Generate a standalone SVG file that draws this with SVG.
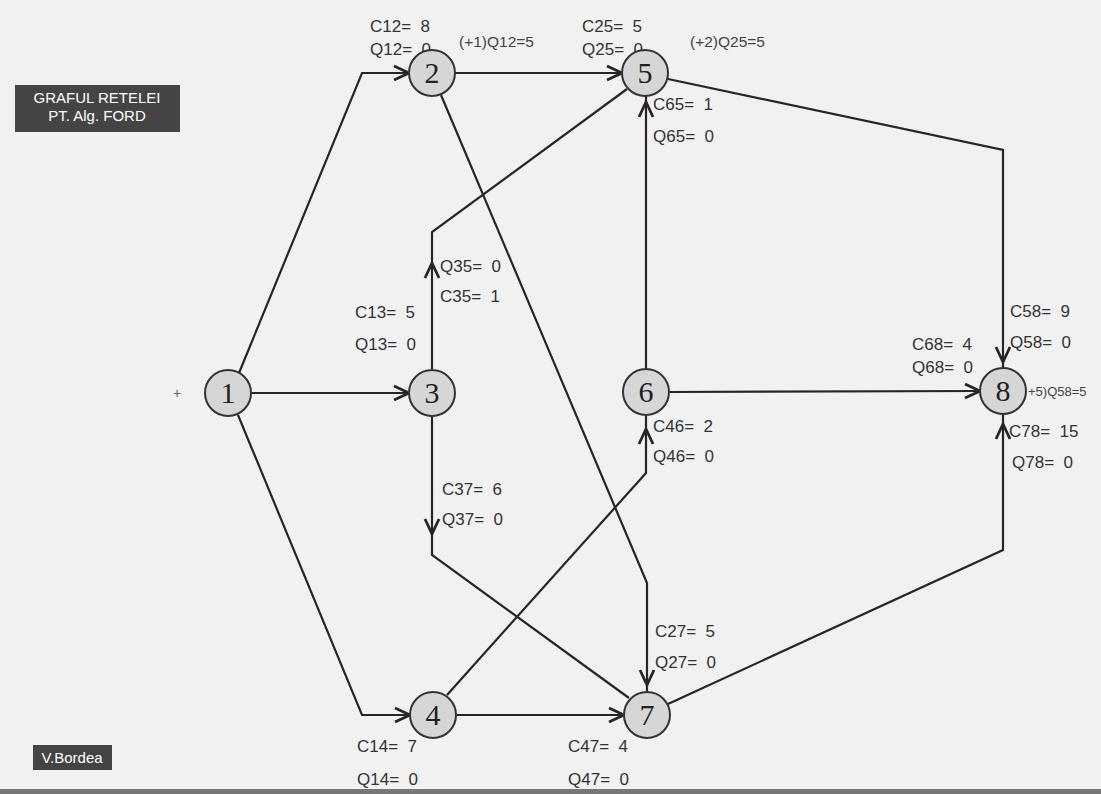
<svg xmlns="http://www.w3.org/2000/svg" width="1101" height="794" viewBox="0 0 1101 794">
<defs>
<style>
.edge{fill:none;stroke:#262626;stroke-width:2.2}
.ah{fill:none;stroke:#262626;stroke-width:2.8;stroke-linejoin:miter}
.lbl{font-family:"Liberation Sans",Arial,sans-serif;font-size:17px;fill:#333;white-space:pre}
.flow{font-family:"Liberation Sans",Arial,sans-serif;font-size:15.5px;fill:#444;white-space:pre}
.node circle{fill:#d6d6d6;stroke:#333;stroke-width:2}
.node text{font-family:"Liberation Serif","Times New Roman",serif;font-size:30px;fill:#222;text-anchor:middle}
.box{fill:#444}
.boxt{font-family:"Liberation Sans",Arial,sans-serif;font-size:15px;fill:#fff}
</style>
<path id="ah" class="ah" d="M-15,-7 L0,0 L-15,7"/>
</defs>
<rect x="0" y="0" width="1101" height="794" fill="#f1f1f1"/>
<rect x="0" y="789" width="1101" height="5" fill="#777"/>

<g id="title">
<rect class="box" x="15" y="85" width="165" height="47"/>
<text class="boxt" x="97" y="103" text-anchor="middle">GRAFUL RETELEI</text>
<text class="boxt" x="97" y="121" text-anchor="middle">PT. Alg. FORD</text>
</g>
<g id="author">
<rect class="box" x="33" y="745" width="79" height="25"/>
<text class="boxt" x="72" y="763" text-anchor="middle">V.Bordea</text>
</g>

<g id="connectors">
<path class="edge" d="M239,373 L362,73 L409,73"/>
<use href="#ah" transform="translate(409,73)"/>
<path class="edge" d="M252,393 L409,393"/>
<use href="#ah" transform="translate(409,393)"/>
<path class="edge" d="M238,415 L362,715 L410,715"/>
<use href="#ah" transform="translate(410,715)"/>
<path class="edge" d="M455,73 L622,73"/>
<use href="#ah" transform="translate(622,73)"/>
<path class="edge" d="M441,95 L647,583 L647,692"/>
<use href="#ah" transform="translate(647,685) rotate(90)"/>
<path class="edge" d="M432,369 L432,232 L627,89"/>
<use href="#ah" transform="translate(432,263) rotate(-90)"/>
<path class="edge" d="M432,416 L432,555 L629,698"/>
<use href="#ah" transform="translate(432,534) rotate(90)"/>
<path class="edge" d="M447,695 L646,473 L646,415"/>
<use href="#ah" transform="translate(646,429) rotate(-90)"/>
<path class="edge" d="M456,715 L624,715"/>
<use href="#ah" transform="translate(624,715)"/>
<path class="edge" d="M668,79 L1003,150 L1003,368"/>
<use href="#ah" transform="translate(1003,362) rotate(90)"/>
<path class="edge" d="M646,369 L646,96"/>
<use href="#ah" transform="translate(646,102) rotate(-90)"/>
<path class="edge" d="M669,392 L980,391"/>
<use href="#ah" transform="translate(980,391)"/>
<path class="edge" d="M668,704 L1003,550 L1003,414"/>
<use href="#ah" transform="translate(1003,424) rotate(-90)"/>
</g>

<g id="labels">
<text class="lbl" x="370" y="32">C12=  8</text>
<text class="lbl" x="370" y="55">Q12=  0</text>
<text class="flow" x="459" y="47">(+1)Q12=5</text>
<text class="lbl" x="582" y="32">C25=  5</text>
<text class="lbl" x="582" y="55">Q25=  0</text>
<text class="flow" x="690" y="47">(+2)Q25=5</text>
<text class="lbl" x="653" y="110">C65=  1</text>
<text class="lbl" x="653" y="142">Q65=  0</text>
<text class="lbl" x="440" y="272">Q35=  0</text>
<text class="lbl" x="440" y="302">C35=  1</text>
<text class="lbl" x="355" y="318">C13=  5</text>
<text class="lbl" x="355" y="350">Q13=  0</text>
<text class="lbl" x="442" y="495">C37=  6</text>
<text class="lbl" x="442" y="525">Q37=  0</text>
<text class="lbl" x="653" y="432">C46=  2</text>
<text class="lbl" x="653" y="462">Q46=  0</text>
<text class="lbl" x="912" y="350">C68=  4</text>
<text class="lbl" x="912" y="373">Q68=  0</text>
<text class="lbl" x="1010" y="317">C58=  9</text>
<text class="lbl" x="1010" y="348">Q58=  0</text>
<text class="flow" x="1028" y="396" style="font-size:13px">+5)Q58=5</text>
<text class="lbl" x="1009" y="437">C78=  15</text>
<text class="lbl" x="1012" y="468">Q78=  0</text>
<text class="lbl" x="655" y="637">C27=  5</text>
<text class="lbl" x="655" y="668">Q27=  0</text>
<text class="lbl" x="357" y="752">C14=  7</text>
<text class="lbl" x="357" y="785">Q14=  0</text>
<text class="lbl" x="568" y="752">C47=  4</text>
<text class="lbl" x="568" y="785">Q47=  0</text>
<text class="lbl" x="173" y="398" style="font-size:14px;fill:#666">+</text>
</g>

<g id="node1" class="node"><circle cx="228" cy="393" r="23"/><text x="228" y="403">1</text></g>
<g id="node2" class="node"><circle cx="432" cy="73" r="23"/><text x="432" y="83">2</text></g>
<g id="node3" class="node"><circle cx="432" cy="393" r="23"/><text x="432" y="403">3</text></g>
<g id="node4" class="node"><circle cx="433" cy="715" r="23"/><text x="433" y="725">4</text></g>
<g id="node5" class="node"><circle cx="645" cy="73" r="23"/><text x="645" y="83">5</text></g>
<g id="node6" class="node"><circle cx="646" cy="392" r="23"/><text x="646" y="402">6</text></g>
<g id="node7" class="node"><circle cx="647" cy="715" r="23"/><text x="647" y="725">7</text></g>
<g id="node8" class="node"><circle cx="1003" cy="391" r="23"/><text x="1003" y="401">8</text></g>
</svg>
